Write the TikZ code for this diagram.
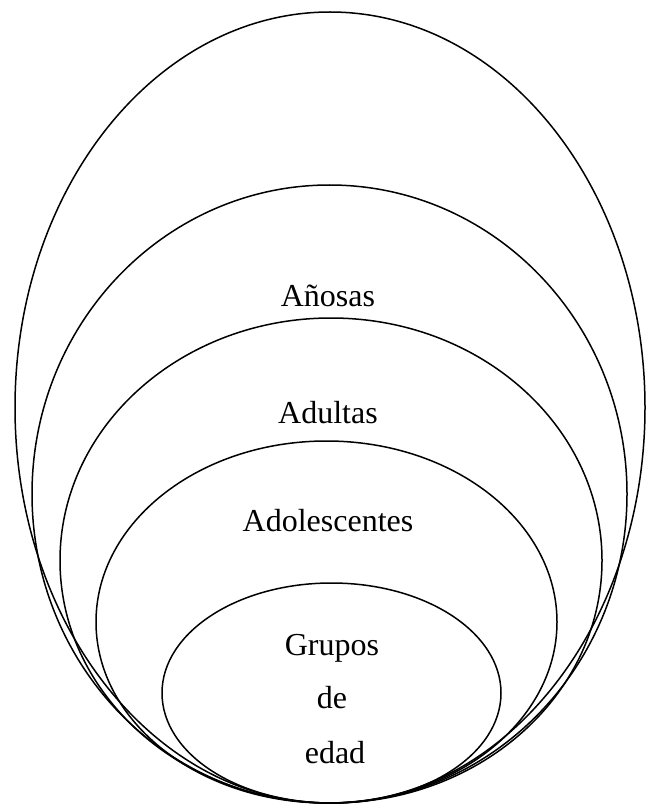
\documentclass[tikz,border=0pt]{standalone}
\usepackage{fontspec}
\setmainfont{Liberation Serif}
\begin{document}
\begin{tikzpicture}[x=1pt,y=-1pt,
  ring/.style={draw=black,line width=1.5pt},
  lbl/.style={anchor=base,inner sep=0pt,font=\fontsize{32}{38}\selectfont}]
\useasboundingbox (0,0) rectangle (652,805);
\draw[ring] (330,407.5) ellipse [x radius=315,y radius=395.5];
\draw[ring] (329.5,494) ellipse [x radius=297.5,y radius=309];
\draw[ring] (331,560.5) ellipse [x radius=271,y radius=242.5];
\draw[ring] (326.5,622) ellipse [x radius=230.5,y radius=181];
\draw[ring] (331.5,693) ellipse [x radius=169.5,y radius=110];
\node[lbl] (anosas) at (328,306) {Añosas};
\node[lbl] (adultas) at (328,423) {Adultas};
\node[lbl] (adol) at (328,531) {Adolescentes};
\node[lbl] (grupos) at (332,655) {Grupos};
\node[lbl] (de) at (332,708) {de};
\node[lbl] (edad) at (335,763) {edad};
\end{tikzpicture}
\end{document}
